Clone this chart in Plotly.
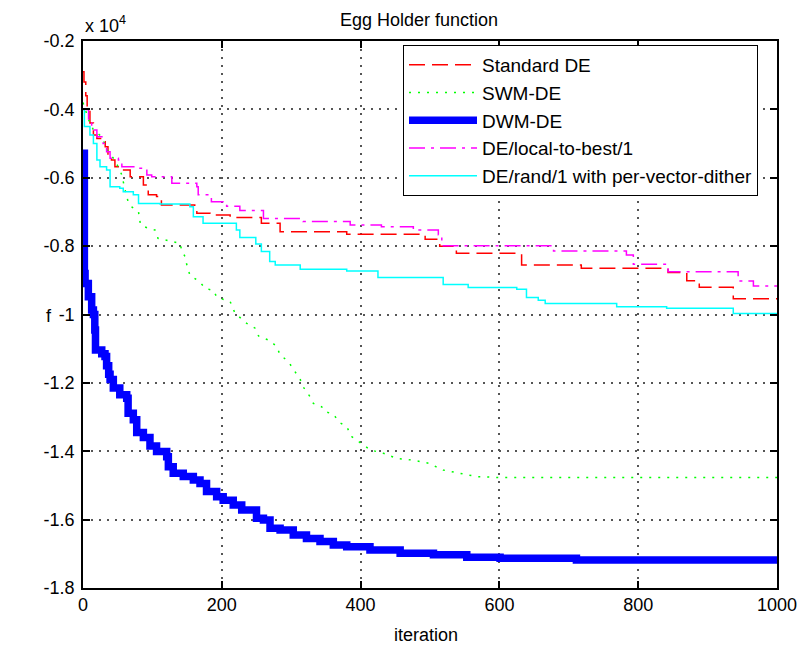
import plotly.graph_objects as go

# ---- data (f values; axis labels shown in units of 1e4) ----
std_x = [0, 1.4, 4, 6, 10, 15, 20, 27, 32, 36, 41, 46, 53, 68, 87, 94, 106, 113, 161, 164, 183, 212, 257, 284, 380, 486, 493, 514, 538, 632, 718, 843, 870, 888, 937, 1000]
std_y = [-2900, -3200, -3600, -4000, -4400, -4750, -4850, -4950, -5090, -5380, -5480, -5680, -5770, -5970, -6210, -6500, -6550, -6800, -6850, -7040, -7090, -7160, -7330, -7580, -7650, -7690, -7800, -8000, -8210, -8550, -8650, -8770, -9010, -9200, -9540, -9540]

swm_x = [0, 3, 8, 15, 24, 29, 36, 46, 56, 60, 65, 70, 80, 81, 83, 94, 104, 108, 118, 130, 140, 142, 147, 149, 154, 168, 176, 188, 193, 212, 219, 236, 248, 253, 270, 279, 284, 296, 306, 313, 317, 327, 332, 344, 349, 361, 369, 380, 387, 399, 414, 433, 452, 476, 498, 519, 543, 567, 601, 1000]
swm_y = [-3800, -4000, -4300, -4600, -4750, -4900, -5240, -5480, -5920, -6300, -6700, -6850, -6990, -7160, -7380, -7480, -7530, -7770, -7820, -7870, -7920, -8110, -8310, -8500, -8850, -9040, -9230, -9300, -9500, -9620, -9960, -10260, -10400, -10630, -10770, -10940, -11180, -11380, -11700, -11900, -12110, -12400, -12600, -12700, -12840, -12920, -13150, -13280, -13570, -13750, -13960, -14060, -14210, -14260, -14350, -14550, -14640, -14740, -14770, -14770]

dwm_x = [0, 2, 3, 7.7, 12.5, 15, 17, 18, 27, 31.7, 34, 37, 39, 43.7, 53, 63, 65, 72.5, 77.4, 87, 96.5, 106, 120.6, 123, 130, 144.5, 159, 168.6, 178, 192.6, 202, 216.5, 228.7, 250, 260, 269.5, 284, 303, 322, 341.5, 360.7, 380, 413.5, 457, 505, 553, 601, 711, 1000]
dwm_y = [-5280, -8800, -9090, -9480, -9870, -10000, -10450, -11040, -11150, -11230, -11500, -11750, -11900, -12150, -12350, -12450, -12890, -13080, -13450, -13600, -13850, -14010, -14160, -14450, -14640, -14740, -14840, -14940, -15180, -15330, -15430, -15570, -15720, -15960, -16010, -16250, -16300, -16450, -16550, -16640, -16740, -16790, -16890, -16980, -17030, -17100, -17130, -17180, -17180]

ltb_x = [0, 8, 12.5, 20, 29, 34, 39, 51, 56, 80, 92, 99, 128, 164, 166, 185, 207, 226, 260, 317, 385, 430, 476, 512, 517, 678, 783, 793, 843, 944, 966, 1000]
ltb_y = [-4000, -4400, -4600, -4800, -5000, -5240, -5430, -5480, -5680, -5720, -5920, -5970, -6160, -6260, -6500, -6700, -6830, -6960, -7190, -7280, -7380, -7430, -7530, -7670, -7990, -8140, -8260, -8530, -8750, -9020, -9170, -9170]

rnd_x = [0, 2, 10, 15, 20, 24.5, 34, 39, 53, 58, 72.5, 80, 111, 154, 159, 173, 221, 226, 249, 257, 269, 277, 313, 380, 425, 519, 555, 625, 639, 656, 666, 769, 841, 937, 1000]
rnd_y = [-4000, -4500, -4750, -5000, -5480, -5680, -5770, -6260, -6310, -6410, -6500, -6750, -6770, -6850, -7140, -7330, -7530, -7750, -7940, -8160, -8450, -8550, -8680, -8730, -8920, -9120, -9210, -9260, -9500, -9580, -9680, -9770, -9820, -9970, -9970]

names = ["Standard DE", "SWM-DE", "DWM-DE", "DE/local-to-best/1", "DE/rand/1 with per-vector-dither"]

x_ticks = [0, 200, 400, 600, 800, 1000]
y_ticks = [-2000, -4000, -6000, -8000, -10000, -12000, -14000, -16000, -18000]
y_ticktext = ["-0.2", "-0.4", "-0.6", "-0.8", "-1", "-1.2", "-1.4", "-1.6", "-1.8"]

FONT = "Liberation Sans, Arial, sans-serif"

fig = go.Figure()
fig.add_trace(go.Scatter(x=std_x, y=std_y, name=names[0], mode="lines",
                         line=dict(color="#ff0000", width=1.5, dash="16px,7px", shape="hv")))
fig.add_trace(go.Scatter(x=swm_x, y=swm_y, name=names[1], mode="lines",
                         line=dict(color="#00ff00", width=1.5, dash="2px,7px")))
fig.add_trace(go.Scatter(x=dwm_x, y=dwm_y, name=names[2], mode="lines",
                         line=dict(color="#0000ff", width=7.5, shape="hv")))
fig.add_trace(go.Scatter(x=ltb_x, y=ltb_y, name=names[3], mode="lines",
                         line=dict(color="#ff00ff", width=1.5, dash="16px,6px,3px,6px", shape="hv")))
fig.add_trace(go.Scatter(x=rnd_x, y=rnd_y, name=names[4], mode="lines",
                         line=dict(color="#00ffff", width=1.5, shape="hv")))

axis_common = dict(
    showline=True, linecolor="black", linewidth=1.5, mirror="ticks",
    ticks="inside", ticklen=7, tickwidth=1.5, tickcolor="black",
    showgrid=True, gridcolor="#555555", gridwidth=1.5, griddash="2px,6px",
    zeroline=False, automargin=False,
    tickfont=dict(family=FONT, size=18, color="black"),
)

fig.update_xaxes(range=[0, 1000], tickvals=x_ticks, ticktext=[str(v) for v in x_ticks], **axis_common)
fig.update_yaxes(range=[-18000, -2000], tickvals=y_ticks, ticktext=y_ticktext,
                 ticklabelstandoff=3, **axis_common)

fig.update_layout(
    width=802, height=648,
    margin=dict(l=83, r=25, t=41, b=60),
    plot_bgcolor="white", paper_bgcolor="white",
    font=dict(family=FONT, color="black"),
    title=dict(text="Egg Holder function", x=(419 - 83) / 694, xref="paper", xanchor="center",
               y=1 - 20 / 648, yref="container", yanchor="middle",
               font=dict(family=FONT, size=18, color="black")),
    legend=dict(x=(403 - 83) / 694, y=1 - (45 - 41) / 547, xanchor="left", yanchor="top",
                bgcolor="white", bordercolor="black", borderwidth=1,
                font=dict(family=FONT, size=19, color="black"), itemwidth=68),
    showlegend=True,
    annotations=[
        dict(text="x 10<sup>4</sup>", x=0, y=1, xref="paper", yref="paper",
             xanchor="left", yanchor="bottom", yshift=3, showarrow=False,
             font=dict(family=FONT, size=18, color="black")),
        dict(text="iteration", x=(426 - 83) / 694, y=-(635 - 588) / 547, xref="paper", yref="paper",
             xanchor="center", yanchor="middle", showarrow=False,
             font=dict(family=FONT, size=18, color="black")),
        dict(text="f", x=-(83 - 49) / 694, y=1 - (316 - 41) / 547, xref="paper", yref="paper",
             xanchor="center", yanchor="middle", showarrow=False,
             font=dict(family=FONT, size=18, color="black")),
    ],
)

fig.write_html("out.html")
